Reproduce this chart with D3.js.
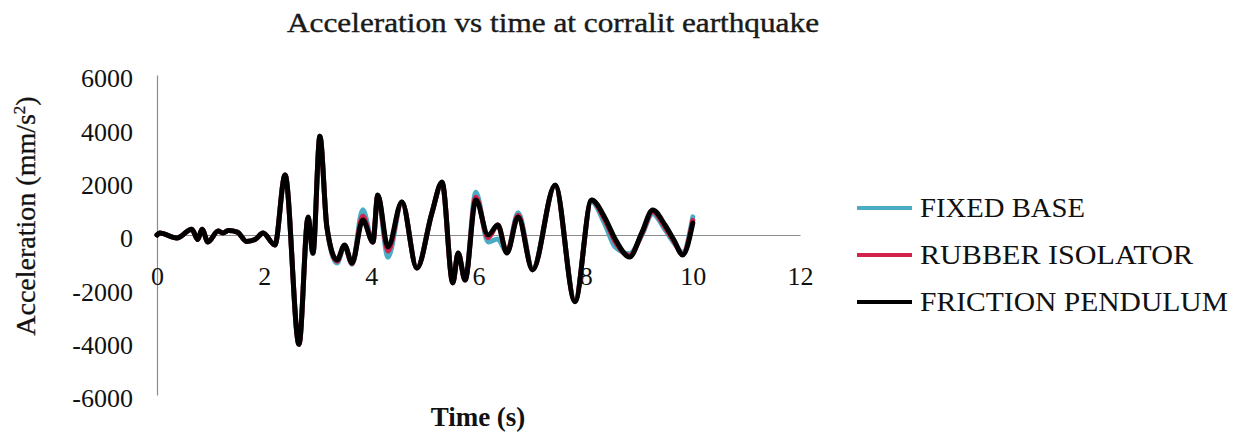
<!DOCTYPE html>
<html>
<head>
<meta charset="utf-8">
<script src="https://cdn.jsdelivr.net/npm/d3@7"></script>
<style>
  html, body { margin: 0; padding: 0; background: #fff; }
  svg { display: block; }
</style>
</head>
<body>
<svg id="chart" width="1250" height="435"></svg>
<script>
// Time samples (s) at the turning points of the response records
const time = [0, 0.05, 0.37, 0.65, 0.76, 0.84, 0.95, 1.14, 1.23, 1.33, 1.5, 1.67, 1.83, 1.98,
  2.2, 2.39, 2.65, 2.82, 2.91, 3.04, 3.17, 3.36, 3.5, 3.64, 3.84, 4.03, 4.12, 4.31, 4.57,
  4.85, 5.13, 5.32, 5.52, 5.62, 5.75, 5.95, 6.18, 6.36, 6.53, 6.74, 7.01, 7.43, 7.8, 8.11,
  8.36, 8.55, 8.82, 9.05, 9.25, 9.48, 9.65, 9.81, 10];

// Acceleration (mm/s²) for each support condition
const fixedBase = [0, 75, -110, 220, -170, 220, -260, 150, 75, 170, 110, -240, -170, 75,
  -375, 2250, -4100, 650, -700, 3700, 300, -1050, -400, -1100, 950, -280, 1480, -830, 1240,
  -1240, 820, 1950, -1780, -680, -1680, 1600, -260, -150, -650, 830, -1250, 1850, -2450, 1250,
  400, -450, -700, 0, 800, 200, -300, -650, 680];

const rubberIsolator = [0, 75, -110, 220, -170, 220, -260, 150, 75, 170, 110, -240, -170, 75,
  -375, 2250, -4100, 660, -680, 3700, 300, -980, -390, -1070, 700, -270, 1490, -600, 1240,
  -1240, 820, 1960, -1790, -680, -1690, 1420, -100, 380, -660, 740, -1300, 1860, -2480, 1300,
  560, -250, -780, 50, 880, 300, -250, -720, 550];

const frictionPendulum = [0, 75, -110, 220, -170, 220, -260, 150, 75, 170, 110, -240, -170, 75,
  -375, 2250, -4100, 675, -675, 3700, 300, -940, -375, -1050, 560, -260, 1500, -450, 1240,
  -1240, 825, 1990, -1800, -675, -1690, 1310, 0, 375, -675, 675, -1310, 1875, -2500, 1310,
  640, -150, -825, 100, 940, 375, -200, -750, 450];

const seriesNames = ["FIXED BASE", "RUBBER ISOLATOR", "FRICTION PENDULUM"];
const seriesColors = ["#4bacc6", "#d2234a", "#000000"];
const seriesValues = [fixedBase, rubberIsolator, frictionPendulum];
const legendWidths = [165, 273, 308];

const xTicks = [0, 2, 4, 6, 8, 10, 12];
const yTicks = [-6000, -4000, -2000, 0, 2000, 4000, 6000];

const SERIF = "'Liberation Serif', 'Times New Roman', serif";
const svg = d3.select("#chart");

const x = d3.scaleLinear().domain([0, 12]).range([157, 800]);
const y = d3.scaleLinear().domain([-6000, 6000]).range([395, 75]);

// Title
svg.append("text")
  .attr("x", 553).attr("y", 32)
  .attr("text-anchor", "middle")
  .attr("font-family", SERIF)
  .attr("font-size", 28)
  .attr("fill", "#1a1a1a")
  .attr("stroke", "#1a1a1a").attr("stroke-width", 0.4)
  .attr("textLength", 532)
  .attr("lengthAdjust", "spacingAndGlyphs")
  .text("Acceleration vs time at corralit earthquake");

// Vertical axis: line and labels, no tick marks
const yAxis = d3.axisLeft(y).tickValues(yTicks).tickSize(0).tickPadding(24)
  .tickFormat(d => String(d));
const gy = svg.append("g").attr("transform", `translate(${x(0)},0)`).call(yAxis);
gy.select(".domain").attr("stroke", "#8c8c8c").attr("stroke-width", 1.2);
gy.selectAll("text")
  .attr("font-family", SERIF)
  .attr("font-size", 26)
  .attr("fill", "#111")
  .attr("dy", "0.45em");

// Horizontal axis drawn through zero, labels placed below it
const xAxis = d3.axisBottom(x).tickValues(xTicks).tickSize(0).tickPadding(32)
  .tickFormat(d => String(d));
const gx = svg.append("g").attr("transform", `translate(0,${y(0)})`).call(xAxis);
gx.select(".domain").attr("stroke", "#8c8c8c").attr("stroke-width", 1.2);
gx.selectAll("text")
  .attr("font-family", SERIF)
  .attr("font-size", 26)
  .attr("fill", "#111");

// Axis titles
svg.append("text")
  .attr("transform", "translate(35,216) rotate(-90)")
  .attr("text-anchor", "middle")
  .attr("font-family", SERIF)
  .attr("font-size", 28)
  .attr("fill", "#111")
  .attr("stroke", "#111").attr("stroke-width", 0.3)
  .html('Acceleration (mm/s<tspan dy="-10" font-size="17">2</tspan><tspan dy="10">)</tspan>');

svg.append("text")
  .attr("x", 478).attr("y", 426)
  .attr("text-anchor", "middle")
  .attr("font-family", SERIF)
  .attr("font-size", 27)
  .attr("font-weight", "bold")
  .attr("fill", "#111")
  .text("Time (s)");

// Response lines, black drawn last so it sits on top
const line = d3.line()
  .x((d, i) => x(time[i]))
  .y(d => y(d))
  .curve(d3.curveMonotoneX);

svg.append("g").selectAll("path")
  .data(seriesValues)
  .join("path")
  .attr("d", d => line(d))
  .attr("fill", "none")
  .attr("stroke", (d, i) => seriesColors[i])
  .attr("stroke-width", 5)
  .attr("stroke-linejoin", "round")
  .attr("stroke-linecap", "round");

// Legend
const legend = svg.append("g").selectAll("g")
  .data(seriesNames)
  .join("g")
  .attr("transform", (d, i) => `translate(857,${208 + i * 47})`);

legend.append("line")
  .attr("x1", 0).attr("x2", 55)
  .attr("stroke", (d, i) => seriesColors[i])
  .attr("stroke-width", 4);

legend.append("text")
  .attr("x", 63).attr("y", 9)
  .attr("font-family", SERIF)
  .attr("font-size", 27)
  .attr("fill", "#111")
  .attr("textLength", (d, i) => legendWidths[i])
  .attr("lengthAdjust", "spacingAndGlyphs")
  .text(d => d);
</script>
</body>
</html>
